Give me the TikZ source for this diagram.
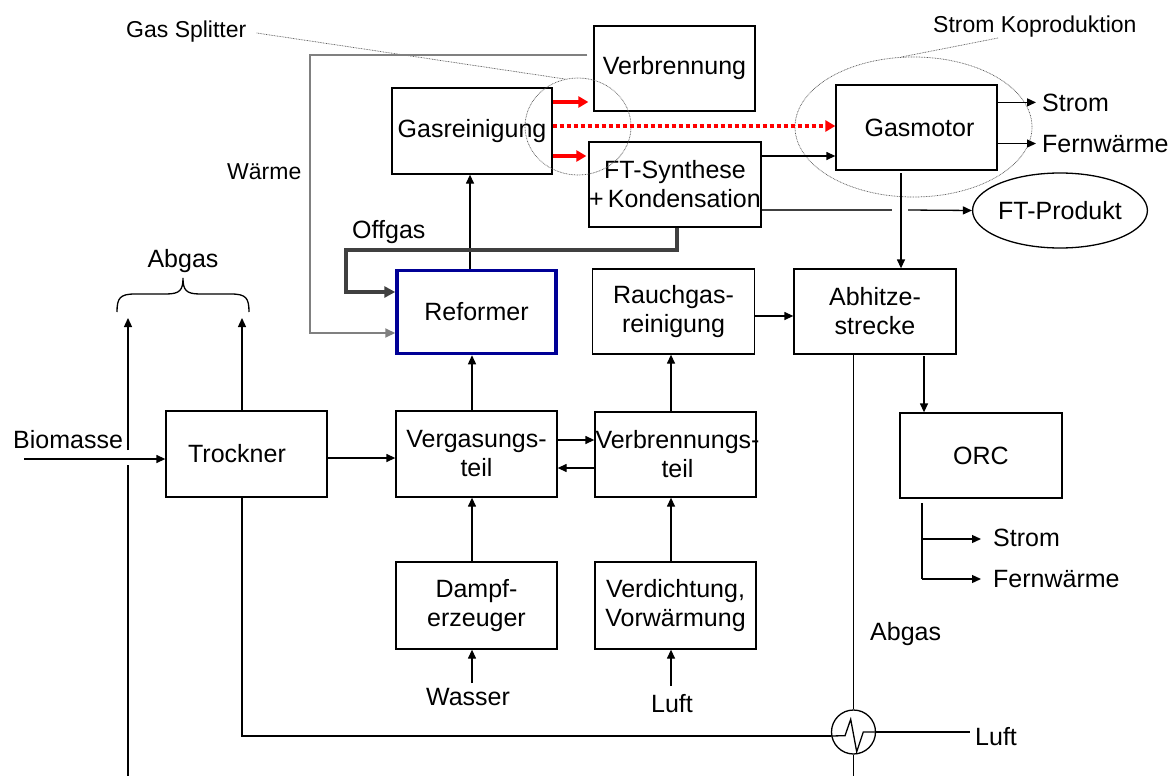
\documentclass[tikz,border=0pt]{standalone}
\usepackage{fontspec}
\setmainfont{Liberation Sans}
\usetikzlibrary{arrows.meta,calc,shapes.geometric}
\newcommand\fbig{\fontsize{25}{29}\selectfont}
\newcommand\fsmall{\fontsize{23}{27}\selectfont}
\definecolor{navyb}{RGB}{0,0,150}
\definecolor{offg}{RGB}{64,64,64}
\definecolor{waermeg}{RGB}{128,128,128}
\definecolor{leadg}{RGB}{90,90,90}
\begin{document}
\begin{tikzpicture}[x=1pt,y=-1pt,
  every node/.style={font=\fbig},
  box/.style={draw=black,line width=1.3pt,minimum width=161pt,minimum height=85pt,inner sep=0pt,align=center},
  txt/.style={inner sep=0pt,align=center},
  lbl/.style={inner sep=0pt,anchor=base west},
  conn/.style={line width=1.3pt,-{Triangle[length=9pt,width=8pt]}},
  plain/.style={line width=1.3pt},
  redarr/.style={draw=red,line width=4pt,-{Triangle[length=10pt,width=11pt]}},
  reddot/.style={draw=red,line width=4pt,dash pattern=on 4pt off 3pt,-{Triangle[length=10pt,width=11pt]}},
  offgas/.style={draw=offg,line width=3.5pt,-{Triangle[length=11pt,width=11pt]}},
  waerme/.style={draw=waermeg,line width=2pt,-{Triangle[length=10pt,width=9pt]}},
  grp/.style={ellipse,draw=leadg,line width=0.7pt,dash pattern=on 0.8pt off 0.8pt,inner sep=0pt},
  leader/.style={draw=leadg,line width=0.7pt,dash pattern=on 0.8pt off 0.8pt}
]
\useasboundingbox (0,0) rectangle (1176,776);

% ---------- boxes ----------
\node[box] (verb) at (674.5,68.5) {Verbrennung};
\node[box,minimum width=160pt,minimum height=86pt] (gasr) at (472,131) {Gasreinigung};
\node[box,minimum width=172pt] (ft) at (675,184.5) {FT-Synthese\\+\,Kondensation};
\node[box] (gasm) at (916.5,127.5) {\hspace*{6pt}Gasmotor};
\node[box,draw=navyb,line width=3.5pt,minimum width=159pt,minimum height=83pt] (ref) at (476.5,312) {Reformer};
\node[box,minimum width=162pt] (rauch) at (673.5,311.5) {Rauchgas-\\reinigung};
\node[box,minimum width=162pt] (abh) at (875,311.5) {Abhitze-\\strecke};
\node[box,minimum height=86pt] (trock) at (246.5,454) {};
\node[txt] (trockt) at (237,454) {Trockner};
\node[box,minimum height=86pt] (verg) at (476.5,454) {Vergasungs-\\teil};
\node[box] (vbt) at (675.5,454.5) {};
\node[txt] (vbtt) at (677.5,454.5) {Verbrennungs-\\teil};
\node[box,minimum height=87pt] (dampf) at (476.5,605.5) {Dampf-\\erzeuger};
\node[box,minimum height=87pt] (verd) at (675.5,605.5) {Verdichtung,\\Vorwärmung};
\node[box,minimum width=162pt] (orc) at (981,455.5) {ORC};
\node[ellipse,draw=black,line width=1.3pt,minimum width=164pt,minimum height=75pt,inner sep=0pt] (ftp) at (1060,210.5) {FT-Produkt};
\node[circle,draw=black,line width=1.3pt,minimum size=44pt,inner sep=0pt] (hx) at (853.5,732) {};

% ---------- group ellipses and leaders ----------
\node[grp,minimum width=106pt,minimum height=97pt] (split) at (578,126.5) {};
\node[grp,minimum width=237pt,minimum height=140pt] (koprod) at (913.5,127) {};
\node[lbl,font=\fsmall] (gsl) at (126,38) {Gas Splitter};
\draw[leader] ($(gsl.base east)+(10,-5)$) -- (split.105);
\node[lbl,font=\fsmall] (skl) at (933,33) {Strom Koproduktion};
\draw[leader] ($(skl.base west)+(65,5)$) -- (koprod.100);

% ---------- labels ----------
\node[lbl] (biol) at (13,448) {Biomasse};
\node[txt,anchor=base] (abl) at (183,267) {Abgas};
\node[lbl,font=\fsmall] (wl) at (227,179) {Wärme};
\node[lbl] (ogl) at (352,238) {Offgas};
\node[txt,anchor=base] (wasl) at (468,705) {Wasser};
\node[txt,anchor=base] (lufl) at (672,712) {Luft};
\node[lbl] (abg2) at (870,640) {Abgas};
\node[lbl] (luf2) at (975,745) {Luft};
\node[lbl] (st1) at (1042,111) {Strom};
\node[lbl] (fw1) at (1042,152) {Fernwärme};
\node[lbl] (st2) at (993,546) {Strom};
\node[lbl] (fw2) at (993,587) {Fernwärme};

% ---------- helper coordinates ----------
\coordinate (r102) at (0,102);
\coordinate (r126) at (0,126);
\coordinate (r156) at (0,156);
\coordinate (r210) at (0,210);
\coordinate (r292) at (0,292);
\coordinate (r316) at (0,316);
\coordinate (r333) at (0,333);
\coordinate (r440) at (0,440);
\coordinate (r458) at (0,458);
\coordinate (r468) at (0,468);
\coordinate (c470) at (470,0);
\coordinate (c472) at (472,0);
\coordinate (c671) at (671,0);

% ---------- left side ----------
\coordinate (bioin) at (24,459);
\draw[conn] (bioin) -- (bioin -| trock.west);
\coordinate (la0) at (128,776);
\coordinate (la1) at (128,465);
\coordinate (la2) at (128,450);
\coordinate (la3) at (128,318);
\draw[plain] (la0) -- (la1);
\draw[conn] (la2) -- (la3);
\coordinate (ta) at (242,318);
\draw[conn] (trock.north -| ta) -- (ta);
\draw[plain] (117,312) .. controls (117,298) and (120,294) .. (135,294) -- (166,294)
  .. controls (180,294) and (183,290) .. (183,278)
  .. controls (183,290) and (186,294) .. (200,294) -- (231,294)
  .. controls (246,294) and (249,298) .. (249,312);
\draw[conn] (trock.east |- r458) -- (verg.west |- r458);

% ---------- heat exchanger ----------
\coordinate (tb) at (242,736);
\draw[plain] (trock.south -| tb) -- (tb) -- (tb -| hx.west);
\draw[plain] (tb -| hx.west) -- (845,735.7) -- (850.7,719.3) -- (856.7,751.7) -- (863.3,732) -- (hx.east);
\coordinate (hxo) at (970,732);
\draw[plain] (hx.east) -- (hxo);
\coordinate (av) at (853.5,776);
\draw[plain] (abh.south -| hx.north) -- (hx.north);
\draw[plain] (hx.south) -- (av);

% ---------- central flows ----------
\draw[conn] (verg.east |- r440) -- (vbt.west |- r440);
\draw[conn] (vbt.west |- r468) -- (verg.east |- r468);
\draw[conn] (verg.north -| c472) -- (ref.south -| c472);
\draw[conn] (ref.north -| c470) -- (gasr.south -| c470);
\draw[conn] (dampf.north -| c472) -- (verg.south -| c472);
\draw[conn] (verd.north -| c671) -- (vbt.south -| c671);
\draw[conn] (vbt.north -| c671) -- (rauch.south -| c671);
\draw[conn] (rauch.east |- r316) -- (abh.west |- r316);
\coordinate (wa) at (472,683);
\coordinate (lu) at (671,686);
\draw[conn] (wa) -- (dampf.south -| wa);
\draw[conn] (lu) -- (verd.south -| lu);

% ---------- right side ----------
\coordinate (gd) at (901,173);
\draw[conn] (gd) -- (abh.north -| gd);
\coordinate (ao) at (924,356);
\draw[conn] (ao) -- (orc.north -| ao);
\coordinate (o1) at (922,503);
\coordinate (o2) at (922,539);
\coordinate (o3) at (922,579);
\draw[plain] (o1) -- (o3);
\draw[conn] (o2) -- ($(o2 -| st2.west)+(-12,0)$);
\draw[conn] (o3) -- ($(o3 -| fw2.west)+(-12,0)$);
\draw[conn] (gasm.east |- st1.west) -- ($(st1.west)+(-6,0)$);
\draw[conn] (gasm.east |- fw1.west) -- ($(fw1.west)+(-6,0)$);
\draw[conn] (ft.east |- r156) -- (gasm.west |- r156);
\coordinate (fp1) at (892,210);
\coordinate (fp2) at (908,210);
\draw[plain,draw=offg] (ft.east |- r210) -- (fp1);
\draw[conn] (fp2) -- (ftp.west);

% ---------- red splitter arrows ----------
\draw[redarr] (gasr.east |- r102) -- ($(verb.west |- r102)+(-5,0)$);
\draw[redarr] (gasr.east |- r156) -- ($(ft.west |- r156)+(-2,0)$);
\draw[reddot] (gasr.east |- r126) -- (gasm.west |- r126);

% ---------- offgas and heat ----------
\coordinate (og1) at (677,250);
\coordinate (og2) at (346,250);
\draw[offgas] (ft.south -| og1) -- (og1) -- (og2) -- (og2 |- r292) -- (ref.west |- r292);
\coordinate (w1) at (310,55);
\draw[waerme] ($(verb.west |- w1)+(-6,0)$) -- (w1) -- (w1 |- r333) -- (ref.west |- r333);
\end{tikzpicture}
\end{document}
